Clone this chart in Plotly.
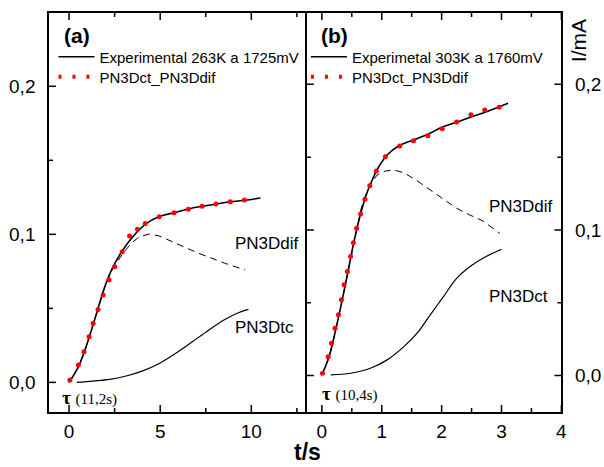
import plotly.graph_objects as go

# ---------------- Panel (a) data ----------------
a_exp_t = [0.0, 0.51, 0.87, 1.23, 1.59, 1.96, 2.41, 2.95, 3.5, 4.22, 4.95, 5.76, 6.58, 7.3, 8.11, 8.84, 9.66, 10.5]
a_exp_i = [0.0, 0.0105, 0.0218, 0.0353, 0.050, 0.0646, 0.078, 0.0894, 0.0984, 0.107, 0.112, 0.1146, 0.1173, 0.119, 0.1205, 0.122, 0.123, 0.1245]

a_fit_t = [0.05, 0.51, 0.82, 1.1, 1.32, 1.59, 1.87, 2.19, 2.5, 2.92, 3.32, 3.75, 4.18, 4.95, 5.76, 6.54, 7.3, 8.06, 8.84, 9.62]
a_fit_i = [0.0016, 0.0117, 0.0207, 0.0308, 0.0399, 0.0493, 0.059, 0.0691, 0.0781, 0.0882, 0.0989, 0.1035, 0.1074, 0.1119, 0.1146, 0.1169, 0.119, 0.1205, 0.122, 0.1232]

a_dif_t = [0.0, 0.5, 0.87, 1.23, 1.59, 1.96, 2.41, 2.95, 3.41, 3.86, 4.4, 4.95, 5.67, 6.4, 7.12, 7.84, 8.57, 9.66]
a_dif_i = [0.0, 0.0103, 0.0215, 0.035, 0.0497, 0.0642, 0.0772, 0.087, 0.094, 0.0984, 0.1002, 0.0989, 0.095, 0.091, 0.0871, 0.0838, 0.0804, 0.0759]

a_ct_t = [0.42, 1.32, 2.23, 3.13, 4.04, 4.95, 5.85, 6.76, 7.66, 8.57, 9.29, 9.84]
a_ct_i = [0.0, 0.0009, 0.002, 0.0043, 0.0078, 0.0128, 0.0196, 0.0274, 0.0353, 0.0426, 0.047, 0.0493]

# ---------------- Panel (b) data ----------------
b_exp_t = [0.0, 0.12, 0.23, 0.34, 0.43, 0.53, 0.62, 0.73, 0.84, 0.95, 1.09, 1.28, 1.53, 1.78, 2.0, 2.25, 2.5, 2.75, 3.11]
b_exp_i = [0.0005, 0.013, 0.0314, 0.052, 0.0703, 0.0909, 0.1069, 0.1229, 0.1343, 0.1434, 0.1515, 0.1577, 0.1618, 0.1659, 0.1705, 0.1739, 0.1778, 0.1812, 0.187]

b_fit_t = [0.01, 0.105, 0.16, 0.22, 0.277, 0.326, 0.37, 0.426, 0.48, 0.525, 0.58, 0.647, 0.72, 0.80, 0.91, 1.06, 1.30, 1.53, 1.77, 2.01, 2.25, 2.49, 2.72, 2.96]
b_fit_i = [0.0016, 0.013, 0.0222, 0.0325, 0.0417, 0.052, 0.0623, 0.0714, 0.0817, 0.0913, 0.1012, 0.111, 0.1211, 0.1304, 0.1405, 0.1503, 0.1577, 0.1613, 0.1647, 0.1695, 0.1741, 0.1791, 0.1824, 0.1842]

b_dif_t = [0.0, 0.12, 0.23, 0.34, 0.43, 0.53, 0.65, 0.70, 0.80, 0.92, 1.06, 1.2, 1.37, 1.59, 1.81, 2.03, 2.25, 2.47, 2.69, 2.97]
b_dif_i = [0.0005, 0.0128, 0.031, 0.0515, 0.0698, 0.09, 0.1137, 0.1206, 0.1305, 0.1377, 0.1405, 0.1412, 0.1393, 0.1338, 0.1275, 0.1206, 0.1149, 0.1103, 0.1062, 0.0977]

b_ct_t = [0.15, 0.48, 0.81, 1.09, 1.37, 1.59, 1.81, 2.03, 2.25, 2.47, 2.69, 3.0]
b_ct_i = [0.0005, 0.0016, 0.005, 0.0108, 0.0199, 0.0291, 0.0417, 0.0542, 0.0668, 0.0748, 0.0806, 0.0868]

# tick positions (major labelled, minor unlabelled)
y_tickvals = [0.0, 0.05, 0.1, 0.15, 0.2]
y_ticktext = ["0,0", "", "0,1", "", "0,2"]
a_xtickvals = [0, 2.5, 5, 7.5, 10, 12.5]
a_xticktext = ["0", "", "5", "", "10", ""]
b_xtickvals = [0, 0.5, 1, 1.5, 2, 2.5, 3, 3.5, 4]
b_xticktext = ["0", "", "1", "", "2", "", "3", "", "4"]

FONT = "Liberation Sans, Arial, sans-serif"
SERIF = "Liberation Serif, Times New Roman, serif"

W, H = 604, 467
XA0, XA1, XB1 = 49.5, 310.0, 567.0
YT, YB = 13.0, 412.0
xa_dom = [XA0 / W, XA1 / W]
xb_dom = [XA1 / W, XB1 / W]
y_dom = [(H - YB) / H, (H - YT) / H]
a_xrange, a_yrange = [-1.1, 13.05], [-0.020, 0.2495]
b_xrange, b_yrange = [-0.25, 4.0], [-0.025, 0.249]

fig = go.Figure()

# panel a
fig.add_trace(go.Scatter(x=a_dif_t, y=a_dif_i, mode="lines", line=dict(color="black", width=1, dash="7px,5px"),
                         showlegend=False, xaxis="x", yaxis="y"))
fig.add_trace(go.Scatter(x=a_ct_t, y=a_ct_i, mode="lines", line=dict(color="black", width=1.2, shape="spline"),
                         showlegend=False, xaxis="x", yaxis="y"))
fig.add_trace(go.Scatter(x=a_exp_t, y=a_exp_i, mode="lines", line=dict(color="black", width=1.6, shape="spline"),
                         name="Experimental 263K a 1725mV", legend="legend", xaxis="x", yaxis="y"))
fig.add_trace(go.Scatter(x=a_fit_t, y=a_fit_i, mode="markers", marker=dict(color="red", size=5),
                         showlegend=False, xaxis="x", yaxis="y"))
fig.add_trace(go.Scatter(x=[None], y=[None], mode="lines", line=dict(color="red", width=4, dash="3px,11px"),
                         name="PN3Dct_PN3Ddif", legend="legend2", xaxis="x", yaxis="y"))

# panel b
fig.add_trace(go.Scatter(x=b_dif_t, y=b_dif_i, mode="lines", line=dict(color="black", width=1, dash="7px,5px"),
                         showlegend=False, xaxis="x2", yaxis="y2"))
fig.add_trace(go.Scatter(x=b_ct_t, y=b_ct_i, mode="lines", line=dict(color="black", width=1.2, shape="spline"),
                         showlegend=False, xaxis="x2", yaxis="y2"))
fig.add_trace(go.Scatter(x=b_exp_t, y=b_exp_i, mode="lines", line=dict(color="black", width=1.6, shape="spline"),
                         name="Experimetal 303K a 1760mV", legend="legend3", xaxis="x2", yaxis="y2"))
fig.add_trace(go.Scatter(x=b_fit_t, y=b_fit_i, mode="markers", marker=dict(color="red", size=5),
                         showlegend=False, xaxis="x2", yaxis="y2"))
fig.add_trace(go.Scatter(x=[None], y=[None], mode="lines", line=dict(color="red", width=4, dash="3px,11px"),
                         name="PN3Dct_PN3Ddif", legend="legend4", xaxis="x2", yaxis="y2"))

# inward tick marks as line traces, lengths converted from pixels with the axis ranges
def tick_trace(xvals, xtexts, yvals, ytexts, xr, yr, wpx, hpx, xa, ya, yside_both):
    ux = (xr[1] - xr[0]) / wpx   # data units per pixel
    uy = (yr[1] - yr[0]) / hpx
    xs, ys = [], []
    for v, t in zip(xvals, xtexts):
        L = 7 if t else 4
        xs += [v, v, None, v, v, None]
        ys += [yr[0], yr[0] + L * uy, None, yr[1], yr[1] - L * uy, None]
    for v, t in zip(yvals, ytexts):
        L = 7 if t else 4
        xs += [xr[0], xr[0] + L * ux, None]
        ys += [v, v, None]
        if yside_both:
            xs += [xr[1], xr[1] - L * ux, None]
            ys += [v, v, None]
    fig.add_trace(go.Scatter(x=xs, y=ys, mode="lines", line=dict(color="black", width=1.5),
                             showlegend=False, hoverinfo="skip", xaxis=xa, yaxis=ya))

tick_trace(a_xtickvals, a_xticktext, y_tickvals, y_ticktext, a_xrange, a_yrange, XA1 - XA0, YB - YT, "x", "y", False)
tick_trace(b_xtickvals, b_xticktext, y_tickvals, y_ticktext, b_xrange, b_yrange, XB1 - XA1, YB - YT, "x2", "y2", True)

def axis(dom, rng, tickvals, ticktext, anchor, side=None, mirror=True, standoff=4):
    d = dict(domain=dom, range=rng, tickmode="array", tickvals=tickvals, ticktext=ticktext, anchor=anchor,
             showline=True, linecolor="black", linewidth=1.5, mirror=mirror, ticks="",
             showgrid=False, zeroline=False, ticklabelstandoff=standoff,
             tickfont=dict(family=FONT, size=19, color="black"))
    if side is not None:
        d["side"] = side
    return d

def leg(x, y):
    return dict(x=x / W, y=1 - y / H, xanchor="left", yanchor="middle", bgcolor="rgba(0,0,0,0)",
                font=dict(family=FONT, size=15, color="black"), itemwidth=36, borderwidth=0)

fig.update_layout(
    width=W, height=H, margin=dict(l=0, r=0, t=0, b=0),
    paper_bgcolor="white", plot_bgcolor="rgba(0,0,0,0)",
    font=dict(family=FONT, color="black"),
    xaxis=axis(xa_dom, a_xrange, a_xtickvals, a_xticktext, "y", standoff=1),
    yaxis=axis(y_dom, a_yrange, y_tickvals, y_ticktext, "x", mirror=False, standoff=8),
    xaxis2=axis(xb_dom, b_xrange, b_xtickvals, b_xticktext, "y2", standoff=1),
    yaxis2=axis(y_dom, b_yrange, y_tickvals, y_ticktext, "x2", side="right", standoff=8),
    legend=leg(54, 57),
    legend2=leg(54, 77),
    legend3=leg(309, 57),
    legend4=leg(309, 77),
)

ann = []
def add_text(x, y, text, size, xanchor="left", family=FONT, angle=0, yanchor="middle"):
    ann.append(dict(x=x / W, y=1 - y / H, xref="paper", yref="paper", text=text, showarrow=False,
                    xanchor=xanchor, yanchor=yanchor, textangle=angle,
                    font=dict(family=family, size=size, color="black")))

add_text(63, 35, "<b>(a)</b>", 21)
add_text(322, 35, "<b>(b)</b>", 21)
add_text(235, 243, "PN3Ddif", 17)
add_text(235, 327, "PN3Dtc", 17)
add_text(492, 206, "PN3Ddif", 17)
add_text(492, 296, "PN3Dct", 17)
add_text(61, 397, "<b>τ</b> <span style='font-size:15px'>(11,2s)</span>", 19, family=SERIF)
add_text(323, 393, "<b>τ</b> <span style='font-size:15px'>(10,4s)</span>", 19, family=SERIF)
add_text(311, 467, "<b>t/s</b>", 23, xanchor="center", yanchor="bottom")
add_text(584, 41, "I/mA", 21, xanchor="center", angle=-90)
fig.update_layout(annotations=ann)

fig.write_html("out.html")
